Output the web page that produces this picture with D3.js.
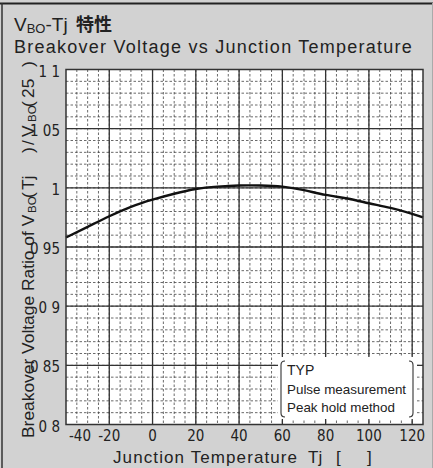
<!DOCTYPE html>
<html>
<head>
<meta charset="utf-8">
<script src="https://cdn.jsdelivr.net/npm/d3@7"></script>
<style>
  body { margin: 0; background: #d2d2d2; }
  svg { display: block; font-family: "Liberation Sans", Arial, sans-serif; }
  .tick-label { font-family: "Liberation Sans Narrow", "DejaVu Sans Condensed", sans-serif; font-size: 15px; fill: #222; }
</style>
</head>
<body>
<svg id="chart" width="433" height="468"></svg>
<script>
// junction temperature (deg C) and VBO(Tj)/VBO(25)
var temps = [-40, -30, -20, -10, 0, 10, 20, 30, 40, 50, 60, 70, 80, 90, 100, 110, 120, 125];
var ratios = [0.958, 0.967, 0.976, 0.984, 0.990, 0.995, 0.999, 1.001, 1.002, 1.002, 1.001, 0.998, 0.994, 0.991, 0.987, 0.983, 0.978, 0.975];

var xTicks = [-40, -20, 0, 20, 40, 60, 80, 100, 120];
var yTicks = [0.8, 0.85, 0.9, 0.95, 1, 1.05, 1.1];
var yTickLabels = ['0 8', '0 85', '0 9', '0 95', '1', '1 05', '1 1'];
var notes = ['TYP', 'Pulse measurement', 'Peak hold method'];

var svg = d3.select('#chart');

var x = d3.scaleLinear().domain([-40, 125]).range([66, 423]);
var y = d3.scaleLinear().domain([0.8, 1.1]).range([424.5, 69.5]);

// outer frame
svg.append('line').attr('x1', 0).attr('x2', 433).attr('y1', 3.5).attr('y2', 3.5)
  .attr('stroke', '#222').attr('stroke-width', 2);
svg.append('line').attr('x1', 2).attr('x2', 2).attr('y1', 3).attr('y2', 468)
  .attr('stroke', '#333').attr('stroke-width', 1.5);
svg.append('line').attr('x1', 432.5).attr('x2', 432.5).attr('y1', 3).attr('y2', 468)
  .attr('stroke', '#aaa').attr('stroke-width', 1);

// titles
var t1 = svg.append('text').attr('x', 14).attr('y', 31)
  .attr('font-size', 19).attr('fill', '#222');
t1.append('tspan').text('V');
t1.append('tspan').attr('font-size', 13).attr('dy', 2).text('BO');
t1.append('tspan').attr('dy', -2).text('-Tj ');
t1.append('tspan').attr('x', 76).attr('font-family', '"Noto Sans CJK JP", sans-serif')
  .attr('font-weight', 'bold').attr('font-size', 18).text('特性');

svg.append('text').attr('x', 14).attr('y', 53)
  .attr('font-size', 18).attr('letter-spacing', 1.25).attr('fill', '#222')
  .text('Breakover Voltage vs Junction Temperature');

// plot background
svg.append('rect')
  .attr('x', x(-40)).attr('y', y(1.1))
  .attr('width', x(125) - x(-40)).attr('height', y(0.8) - y(1.1))
  .attr('fill', '#fff');

var grid = svg.append('g').attr('class', 'grid');

// minor grid (dashed)
grid.selectAll('line.vminor')
  .data(d3.range(-35, 125, 5))
  .enter().append('line').attr('class', 'vminor')
  .attr('x1', function (d) { return x(d); }).attr('x2', function (d) { return x(d); })
  .attr('y1', y(1.1)).attr('y2', y(0.8))
  .attr('stroke', '#444').attr('stroke-width', 0.8).attr('stroke-dasharray', '2.5,2');

grid.selectAll('line.hminor')
  .data(d3.range(1, 30).map(function (i) { return 0.8 + i * 0.01; }))
  .enter().append('line').attr('class', 'hminor')
  .attr('x1', x(-40)).attr('x2', x(125))
  .attr('y1', function (d) { return y(d); }).attr('y2', function (d) { return y(d); })
  .attr('stroke', '#444').attr('stroke-width', 0.8).attr('stroke-dasharray', '2.5,2');

// major grid
grid.selectAll('line.vmajor')
  .data(xTicks.slice(1))
  .enter().append('line').attr('class', 'vmajor')
  .attr('x1', function (d) { return x(d); }).attr('x2', function (d) { return x(d); })
  .attr('y1', y(1.1)).attr('y2', y(0.8))
  .attr('stroke', '#333').attr('stroke-width', 1.3);

grid.selectAll('line.hmajor')
  .data(yTicks.slice(1, -1))
  .enter().append('line').attr('class', 'hmajor')
  .attr('x1', x(-40)).attr('x2', x(125))
  .attr('y1', function (d) { return y(d); }).attr('y2', function (d) { return y(d); })
  .attr('stroke', '#333').attr('stroke-width', 1.3);

// note box
var box = svg.append('g').attr('class', 'notes');
box.append('rect').attr('x', 278).attr('y', 357).attr('width', 139).attr('height', 62)
  .attr('fill', '#fff');
box.append('path')
  .attr('d', 'M285,361 Q281,361 281,365 L281,413 Q281,417 285,417')
  .attr('fill', 'none').attr('stroke', '#333').attr('stroke-width', 1.1);
box.append('path')
  .attr('d', 'M409,361 Q413,361 413,365 L413,413 Q413,417 409,417')
  .attr('fill', 'none').attr('stroke', '#333').attr('stroke-width', 1.1);
box.selectAll('text')
  .data(notes)
  .enter().append('text')
  .attr('x', 287)
  .attr('y', function (d, i) { return 375 + i * 18.5; })
  .attr('font-size', function (d, i) { return i === 0 ? 14 : 13.4; })
  .attr('fill', '#222')
  .text(function (d) { return d; });

// curve
var line = d3.line()
  .x(function (d, i) { return x(temps[i]); })
  .y(function (d) { return y(d); })
  .curve(d3.curveNatural);

svg.append('path')
  .datum(ratios)
  .attr('d', line)
  .attr('fill', 'none')
  .attr('stroke', '#111')
  .attr('stroke-width', 2.4);

// plot border
svg.append('rect')
  .attr('x', x(-40)).attr('y', y(1.1))
  .attr('width', x(125) - x(-40)).attr('height', y(0.8) - y(1.1))
  .attr('fill', 'none').attr('stroke', '#333').attr('stroke-width', 1.5);

// tick labels
svg.selectAll('text.xtick')
  .data(xTicks)
  .enter().append('text').attr('class', 'tick-label xtick')
  .attr('x', function (d, i) { return i === 0 ? x(d) + 3 : x(d); })
  .attr('y', 441)
  .attr('text-anchor', function (d, i) { return i === 0 ? 'start' : 'middle'; })
  .text(function (d) { return d; });

svg.selectAll('text.ytick')
  .data(yTicks)
  .enter().append('text').attr('class', 'tick-label ytick')
  .attr('x', 60)
  .attr('y', function (d) { return y(d) + 7; })
  .attr('text-anchor', 'end')
  .text(function (d, i) { return yTickLabels[i]; });

// axis titles (the degree signs are missing in the original, gaps kept)
var xl = svg.append('text').attr('y', 463)
  .attr('font-size', 17).attr('fill', '#222');
xl.append('tspan').attr('x', 113).attr('letter-spacing', 1.1).text('Junction Temperature');
xl.append('tspan').attr('x', 308).text('Tj');
xl.append('tspan').attr('x', 336).text('[');
xl.append('tspan').attr('x', 367).text(']');

var yl = svg.append('text')
  .attr('transform', 'translate(34,438) rotate(-90)')
  .attr('font-size', 17.4).attr('fill', '#222');
yl.append('tspan').attr('x', 0).text('Breakover Voltage Ratio of V');
yl.append('tspan').attr('x', 225).attr('dy', 2).attr('font-size', 11.5).text('BO');
yl.append('tspan').attr('x', 240).attr('dy', -2).text('(');
yl.append('tspan').attr('x', 248).text('Tj');
yl.append('tspan').attr('x', 285).text(')');
yl.append('tspan').attr('x', 293).text('/');
yl.append('tspan').attr('x', 301).text('V');
yl.append('tspan').attr('x', 316).attr('dy', 2).attr('font-size', 11.5).text('BO');
yl.append('tspan').attr('x', 331).attr('dy', -2).text('(');
yl.append('tspan').attr('x', 340).text('25');
yl.append('tspan').attr('x', 371).text(')');
</script>
</body>
</html>
